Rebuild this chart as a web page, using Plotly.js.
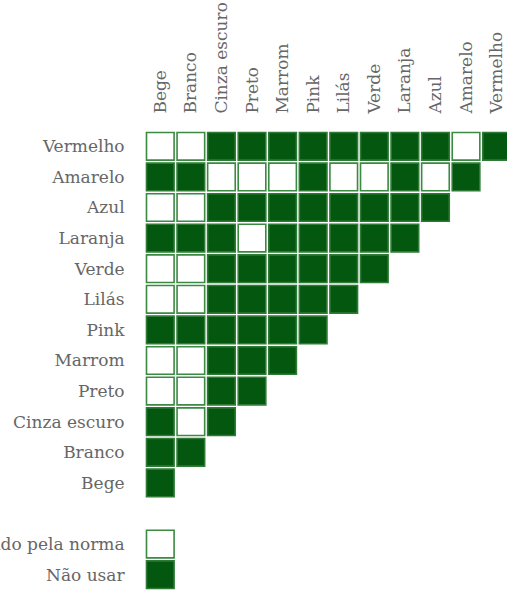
<!DOCTYPE html>
<html>
<head>
<meta charset="utf-8">
<script src="https://cdn.plot.ly/plotly-3.0.1.min.js"></script>
<style>html,body{margin:0;padding:0;background:#fff;overflow:hidden}</style>
</head>
<body>
<div id="chart" style="width:507px;height:590px"></div>
<script>
const rows = ['Vermelho','Amarelo','Azul','Laranja','Verde','Lilás','Pink','Marrom','Preto','Cinza escuro','Branco','Bege'];
const cols = ['Bege','Branco','Cinza escuro','Preto','Marrom','Pink','Lilás','Verde','Laranja','Azul','Amarelo','Vermelho'];
// 1 = Não usar, 0 = Permitido pela norma
const vermelho    = [0,0,1,1,1,1,1,1,1,1,0,1];
const amarelo     = [1,1,0,0,0,1,0,0,1,0,1];
const azul        = [0,0,1,1,1,1,1,1,1,1];
const laranja     = [1,1,1,0,1,1,1,1,1];
const verde       = [0,0,1,1,1,1,1,1];
const lilas       = [0,0,1,1,1,1,1];
const pink        = [1,1,1,1,1,1];
const marrom      = [0,0,1,1,1];
const preto       = [0,0,1,1];
const cinzaEscuro = [1,0,1];
const branco      = [1,1];
const bege        = [1];
const matrix = [vermelho,amarelo,azul,laranja,verde,lilas,pink,marrom,preto,cinzaEscuro,branco,bege];
const legendLabels = ['Permitido pela norma','Não usar'];
const spacer = ' ';

const okX=[], okY=[], noX=[], noY=[];
matrix.forEach((r,i)=>r.forEach((v,j)=>{
  if(v){noX.push(cols[j]);noY.push(rows[i]);} else {okX.push(cols[j]);okY.push(rows[i]);}
}));
okX.push(cols[0]); okY.push(legendLabels[0]);
noX.push(cols[0]); noY.push(legendLabels[1]);

const dark = '#04570f';
const traces = [
  {type:'scatter',mode:'markers',x:okX,y:okY,hoverinfo:'skip',cliponaxis:true,
   marker:{symbol:'square',size:27.6,color:'#ffffff',line:{color:'#3a8a42',width:1.6}}},
  {type:'scatter',mode:'markers',x:noX,y:noY,hoverinfo:'skip',cliponaxis:true,
   marker:{symbol:'square',size:27.6,color:dark,line:{color:'#2f7a36',width:1.6}}}
];
const font = {family:'"DejaVu Serif", serif', size:17, color:'#666666'};
const layout = {
  width:507, height:590,
  margin:{l:144.7, r:0, t:130.7, b:0, pad:0},
  paper_bgcolor:'#fff', plot_bgcolor:'#fff',
  showlegend:false,
  font: font,
  xaxis:{type:'category', categoryorder:'array', categoryarray:cols, side:'top',
    range:[-0.5, 11.34], tickangle:-90, showgrid:false, zeroline:false, showline:false,
    ticks:'outside', ticklen:13, tickcolor:'rgba(0,0,0,0)', tickfont:font, fixedrange:true},
  yaxis:{type:'category', categoryorder:'array', categoryarray:rows.concat([spacer]).concat(legendLabels),
    range:[14.5,-0.5], showgrid:false, zeroline:false, showline:false,
    ticks:'outside', ticklen:16, tickcolor:'rgba(0,0,0,0)', tickfont:font, fixedrange:true}
};
Plotly.newPlot('chart', traces, layout, {displayModeBar:false, staticPlot:true});
</script>
</body>
</html>
